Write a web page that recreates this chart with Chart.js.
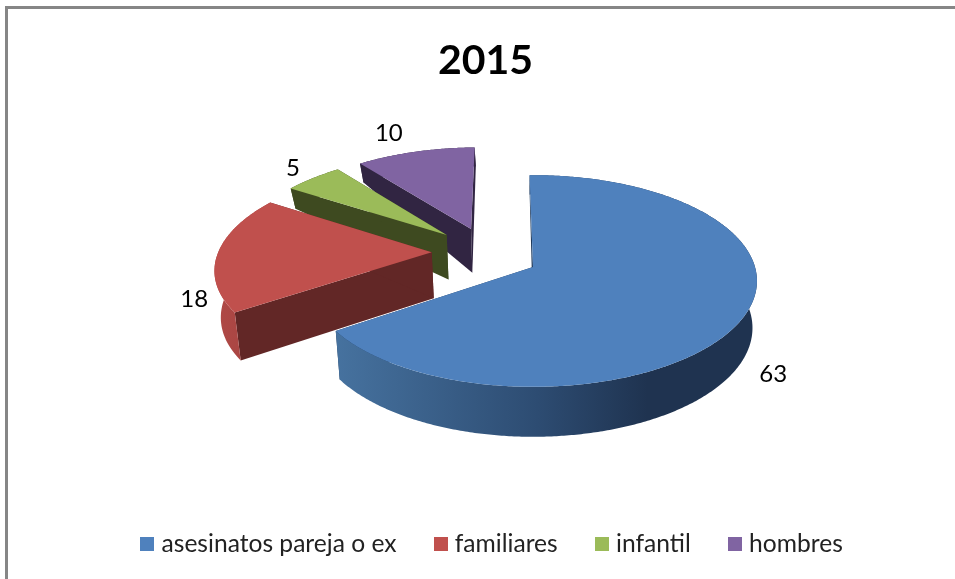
<!DOCTYPE html>
<html>
<head>
<meta charset="utf-8">
<style>
html,body{margin:0;padding:0;background:#fff;overflow:hidden}
#frame{position:absolute;left:5px;top:6px;right:0;bottom:0;border-top:3px solid #868686;border-left:3px solid #868686}
canvas{position:absolute;left:0;top:0}
</style>
<script src="https://cdn.jsdelivr.net/npm/chart.js@4"></script>
</head>
<body>
<div id="frame"></div>
<canvas id="c" width="955" height="579"></canvas>
<script>
const chartTitle = '2015';
const categories = ['asesinatos pareja o ex', 'familiares', 'infantil', 'hombres'];
const values = [63, 18, 5, 10];
const topColors = ['#4f81bd', '#c0504d', '#9bbb59', '#8064a2'];

// 3D view of the pie: perspective projection of the library's arc geometry
const view = {cx: 533, cy: 267, a: 222, b: 104, p: 0.132, shrink: 0.98};
const explode = [[0, 0], [-0.465, -0.145], [-0.405, -0.32], [-0.293, -0.385]];
const sliceScale = [1, 0.98, 0.96, 0.97];
const labelNudge = [[30, 57], [-19, 45], [-15, -8], [-25, -16]];
const cutColors = ['#1f3a5c', '#622726', '#3e4a20', '#312542'];
const wallStops = [
  [[0, '#46729f'], [0.48, '#2d4c72'], [0.74, '#1f3350'], [1, '#1f3350']],
  [[0, '#b04946'], [1, '#a34240']],
  [[0, '#3e4a20'], [1, '#3e4a20']],
  [[0, '#312542'], [1, '#312542']]
];
const wallHeight = [[165, 19], [188, 20], [229, 44], [252, 46], [313, 48], [388, 50]];
const legendShift = 8.5;

function heightAt(y) {
  if (y <= wallHeight[0][0]) return wallHeight[0][1];
  for (let i = 1; i < wallHeight.length; i++) {
    const [y1, h1] = wallHeight[i];
    if (y <= y1) {
      const [y0, h0] = wallHeight[i - 1];
      return h0 + (h1 - h0) * (y - y0) / (y1 - y0);
    }
  }
  return wallHeight[wallHeight.length - 1][1];
}
function project(u, v) {
  const w = 1 / (1 - view.p * v);
  return {x: view.cx + view.a * u * w, y: view.cy + view.b * v * w};
}
function drop(pt) {
  return {x: view.cx + (pt.x - view.cx) * view.shrink, y: pt.y + heightAt(pt.y)};
}
function fillPoly(ctx, pts, fill) {
  ctx.beginPath();
  pts.forEach((q, i) => i ? ctx.lineTo(q.x, q.y) : ctx.moveTo(q.x, q.y));
  ctx.closePath();
  ctx.fillStyle = fill;
  ctx.fill();
}
function swatch(color) {
  const s = document.createElement('canvas');
  s.width = 14;
  s.height = 14;
  const g = s.getContext('2d');
  g.fillStyle = color;
  g.fillRect(0, 0, 14, 14);
  return s;
}

const pie3d = {
  id: 'pie3d',
  afterLayout(chart) {
    chart.legend.left += legendShift;
    chart.legend.right += legendShift;
  },
  beforeDatasetsDraw(chart) {
    const ctx = chart.ctx;
    const arcs = chart.getDatasetMeta(0).data;
    ctx.save();
    for (let i = arcs.length - 1; i >= 0; i--) {
      const arc = arcs[i];
      const [su, sv] = explode[i];
      const sc = sliceScale[i];
      const n = Math.max(2, Math.ceil((arc.endAngle - arc.startAngle) / 0.01));
      const rim = [];
      for (let k = 0; k <= n; k++) {
        const t = arc.startAngle + (arc.endAngle - arc.startAngle) * k / n;
        rim.push(project(su + sc * Math.cos(t), sv + sc * Math.sin(t)));
      }
      const apex = project(su, sv);
      const last = rim[rim.length - 1];
      fillPoly(ctx, [apex, rim[0], drop(rim[0]), drop(apex)], cutColors[i]);
      fillPoly(ctx, [apex, last, drop(last), drop(apex)], cutColors[i]);
      const xs = rim.map(q => q.x);
      const grad = ctx.createLinearGradient(Math.min(...xs), 0, Math.max(...xs), 0);
      wallStops[i].forEach(s => grad.addColorStop(s[0], s[1]));
      fillPoly(ctx, rim.concat(rim.map(drop).reverse()), grad);
      fillPoly(ctx, [apex].concat(rim), arc.options.backgroundColor);
    }
    ctx.font = '24px Lato';
    ctx.fillStyle = '#000';
    ctx.textAlign = 'center';
    ctx.textBaseline = 'middle';
    arcs.forEach((arc, i) => {
      const mid = (arc.startAngle + arc.endAngle) / 2;
      const q = project(explode[i][0] + Math.cos(mid), explode[i][1] + Math.sin(mid));
      ctx.fillText(String(values[i]), q.x + labelNudge[i][0], q.y + labelNudge[i][1]);
    });
    ctx.restore();
    return false;
  }
};

new Chart(document.getElementById('c'), {
  type: 'pie',
  data: {
    labels: categories,
    datasets: [{data: values, backgroundColor: topColors, borderWidth: 0}]
  },
  options: {
    responsive: false,
    animation: false,
    rotation: -1,
    layout: {padding: {left: 16, right: 0, top: 0, bottom: 13}},
    plugins: {
      tooltip: {enabled: false},
      title: {
        display: true,
        text: chartTitle,
        color: '#000',
        font: {family: 'Lato', size: 41, weight: 'bold'},
        padding: {top: 36, bottom: 10}
      },
      legend: {
        position: 'bottom',
        labels: {
          color: '#222',
          font: {family: 'Lato', size: 24.6},
          usePointStyle: true,
          pointStyleWidth: 4,
          boxHeight: 14,
          padding: 42,
          generateLabels(chart) {
            return categories.map((name, i) => ({
              text: name,
              fontColor: '#222',
              fillStyle: topColors[i],
              strokeStyle: topColors[i],
              lineWidth: 0,
              pointStyle: swatch(topColors[i]),
              index: i
            }));
          }
        }
      }
    }
  },
  plugins: [pie3d]
});
</script>
</body>
</html>
